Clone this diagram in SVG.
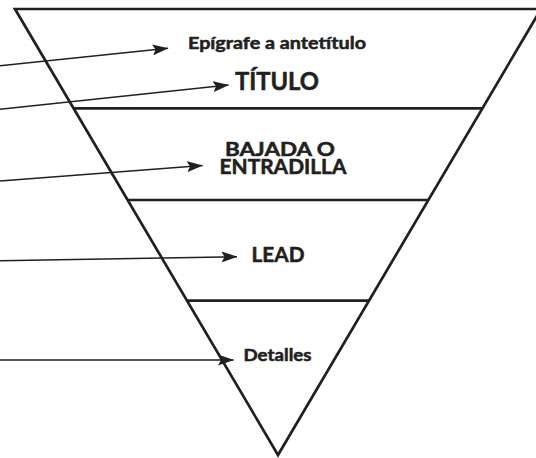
<svg xmlns="http://www.w3.org/2000/svg" width="536" height="458" viewBox="0 0 536 458">
  <style>
    .shape { fill: none; stroke: #231f20; stroke-width: 2.7; }
    .div { stroke: #231f20; stroke-width: 2.7; }
    .arrow { fill: none; stroke: #231f20; stroke-width: 1.4; marker-end: url(#head); }
    .lbl { font-family: Lato, "Open Sans", "Liberation Sans", sans-serif; font-weight: bold; fill: #231f20; stroke: #231f20; stroke-width: 0.55; stroke-linejoin: round; text-anchor: middle; }
  </style>
  <defs>
    <marker id="head" viewBox="0 0 16 11" refX="15.5" refY="5.5" markerWidth="16" markerHeight="11" markerUnits="userSpaceOnUse" orient="auto">
      <path d="M0,0 L16,5.5 L0,11 L3,5.5 Z" fill="#231f20"/>
    </marker>
  </defs>
  <rect width="536" height="458" fill="#ffffff"/>
  <g id="pyramid">
    <polygon class="shape" points="15,9 541,9 278,455"/>
    <line class="div" x1="73.3" y1="108.3" x2="482.7" y2="108.3"/>
    <line class="div" x1="127.5" y1="200" x2="428.5" y2="200"/>
    <line class="div" x1="186.9" y1="300.7" x2="369.1" y2="300.7"/>
  </g>
  <g id="connectors">
    <line class="arrow" x1="0" y1="65.7" x2="168" y2="48.3"/>
    <line class="arrow" x1="0" y1="109.3" x2="228.5" y2="85"/>
    <line class="arrow" x1="0" y1="181" x2="202.5" y2="165.5"/>
    <line class="arrow" x1="0" y1="260.7" x2="237" y2="256.7"/>
    <line class="arrow" x1="0" y1="360" x2="233.5" y2="360"/>
  </g>
  <g id="epigrafe">
    <text class="lbl" x="277" y="49" font-size="17.5" textLength="178" lengthAdjust="spacingAndGlyphs">Epígrafe a antetítulo</text>
  </g>
  <g id="titulo">
    <text class="lbl" x="277" y="90" font-size="25.5" textLength="84" lengthAdjust="spacingAndGlyphs">TÍTULO</text>
  </g>
  <g id="bajada">
    <text class="lbl" x="280" y="156" font-size="19.5" textLength="110" lengthAdjust="spacingAndGlyphs">BAJADA O</text>
    <text class="lbl" x="283" y="174.3" font-size="20" textLength="127" lengthAdjust="spacingAndGlyphs">ENTRADILLA</text>
  </g>
  <g id="lead">
    <text class="lbl" x="278" y="261.7" font-size="21.5" textLength="53" lengthAdjust="spacingAndGlyphs">LEAD</text>
  </g>
  <g id="detalles">
    <text class="lbl" x="277.5" y="361" font-size="17.5" textLength="68" lengthAdjust="spacingAndGlyphs">Detalles</text>
  </g>
</svg>
